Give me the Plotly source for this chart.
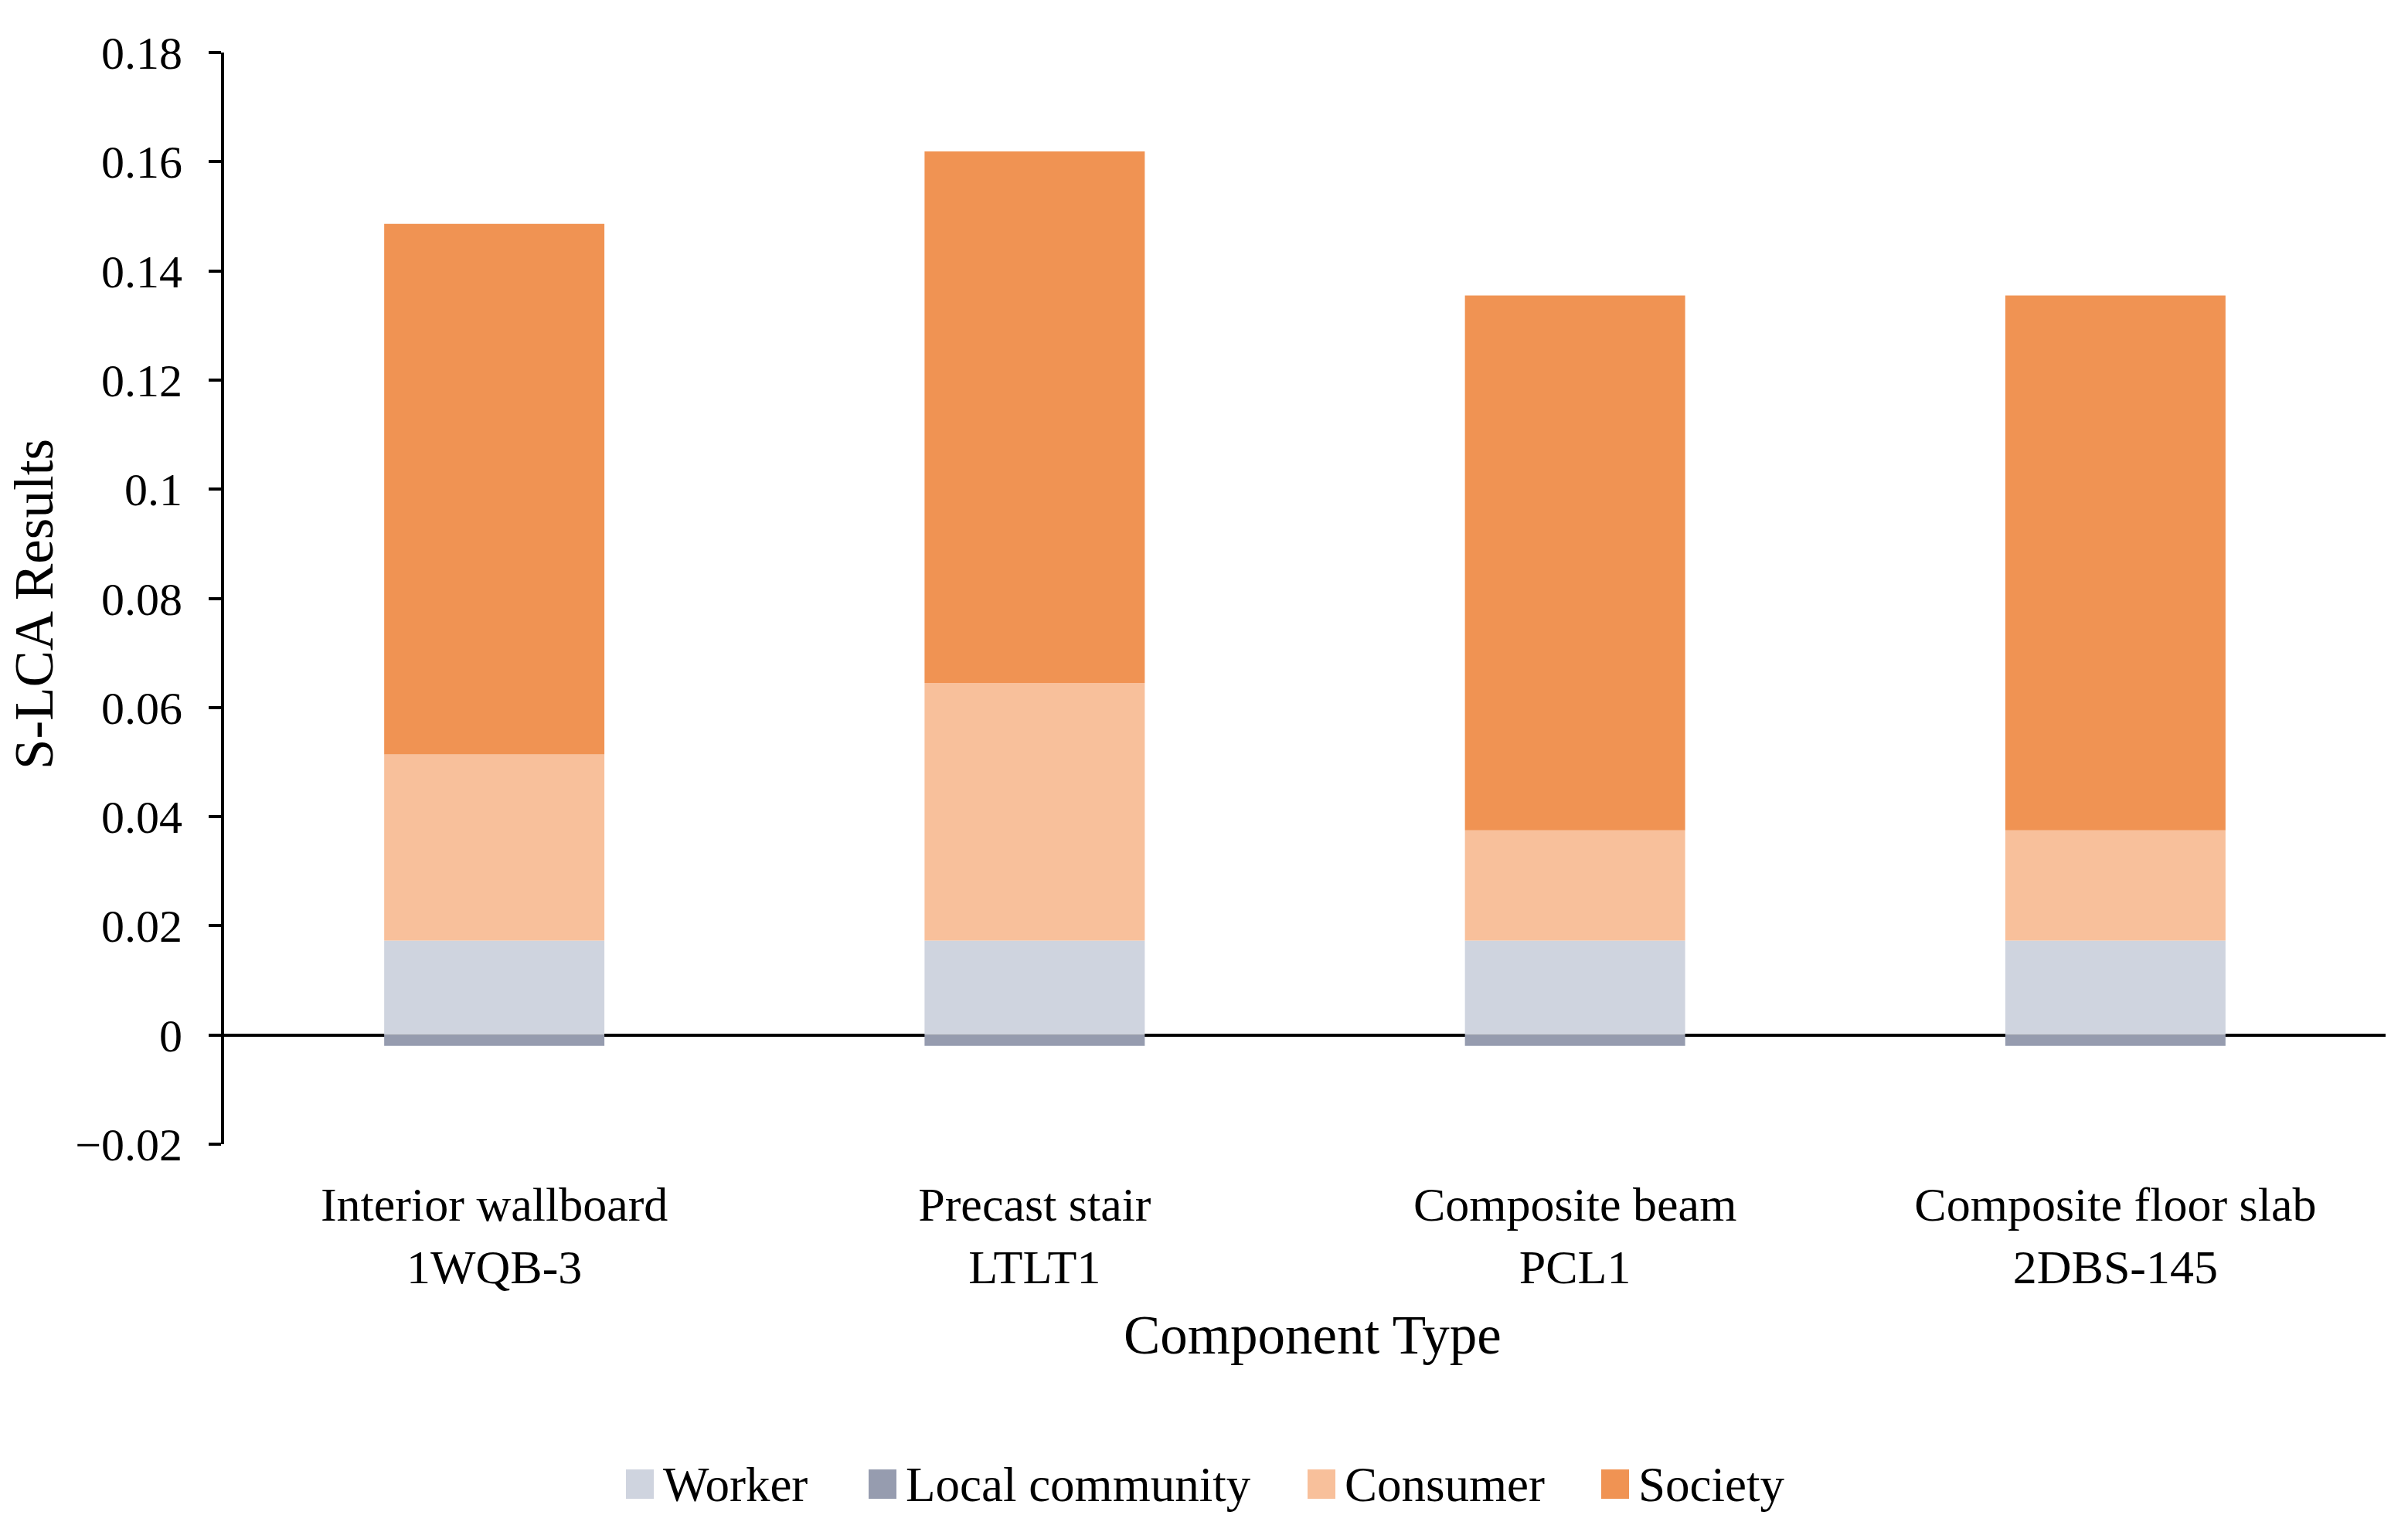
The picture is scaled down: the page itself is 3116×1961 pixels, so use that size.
import plotly.graph_objects as go

categories = ["Interior wallboard<br>1WQB-3", "Precast stair<br>LTLT1",
              "Composite beam<br>PCL1", "Composite floor slab<br>2DBS-145"]
worker = [0.0173, 0.0173, 0.0173, 0.0173]
local_community = [-0.0020, -0.0020, -0.0020, -0.0020]
consumer = [0.0341, 0.0472, 0.0202, 0.0202]
society = [0.0972, 0.0974, 0.0980, 0.0980]
y_ticks = [-0.02, 0, 0.02, 0.04, 0.06, 0.08, 0.1, 0.12, 0.14, 0.16, 0.18]
y_tick_text = ["\u22120.02", "0", "0.02", "0.04", "0.06", "0.08", "0.1", "0.12", "0.14", "0.16", "0.18"]
series_names = ["Worker", "Local community", "Consumer", "Society"]
series_colors = ["#CFD4DF", "#969CAF", "#F8C09B", "#F09353"]
series_values = [worker, local_community, consumer, society]

FONT = "Liberation Serif, Times New Roman, serif"
W, H = 3116, 1961
L, R, T, B = 290, 29, 68, 480
PW, PH = W - L - R, H - T - B


def px_x(px):
    return (px - L) / PW


def px_y(py):
    return (H - B - py) / PH


fig = go.Figure()
for name, vals, color in zip(series_names, series_values, series_colors):
    fig.add_trace(go.Bar(x=categories, y=vals, name=name,
                         marker=dict(color=color, line=dict(width=0))))

# legend drawn with large swatches as in the reference
legend_swatch_left = [810, 1124, 1692, 2072]
shapes = []
annotations = []
for i, (name, color) in enumerate(zip(series_names, series_colors)):
    x0 = legend_swatch_left[i]
    shapes.append(dict(type="rect", xref="paper", yref="paper",
                       x0=px_x(x0), x1=px_x(x0 + 36), y0=px_y(1940), y1=px_y(1902),
                       fillcolor=color, line=dict(width=0)))
    annotations.append(dict(text=name, xref="paper", yref="paper",
                            x=px_x(x0 + 46), y=px_y(1922), xanchor="left", yanchor="middle",
                            showarrow=False, font=dict(family=FONT, size=63, color="black")))

annotations += [
    dict(text="S-LCA Results", xref="paper", yref="paper",
         x=px_x(44), y=px_y(782), xanchor="center", yanchor="middle",
         textangle=-90, showarrow=False, font=dict(family=FONT, size=71)),
    dict(text="Component Type", xref="paper", yref="paper",
         x=px_x(1699), y=px_y(1728), xanchor="center", yanchor="middle",
         showarrow=False, font=dict(family=FONT, size=71)),
]

fig.update_layout(
    width=W, height=H,
    barmode="relative",
    bargap=0.5925,
    plot_bgcolor="white", paper_bgcolor="white",
    font=dict(family=FONT, size=62, color="black"),
    margin=dict(l=L, r=R, t=T, b=B),
    showlegend=False,
    xaxis=dict(showline=False, ticks="", showgrid=False, zeroline=False,
               tickfont=dict(family=FONT, size=62), ticklabelstandoff=36),
    yaxis=dict(range=[-0.02, 0.18], tickvals=y_ticks, ticktext=y_tick_text,
               showline=True, linecolor="black", linewidth=4,
               ticks="outside", ticklen=16, tickwidth=4, tickcolor="black",
               showgrid=False, zeroline=True, zerolinecolor="black", zerolinewidth=4,
               tickfont=dict(family=FONT, size=60), ticklabelstandoff=22),
    shapes=shapes,
    annotations=annotations,
)

fig.write_html("out.html", config={"displayModeBar": False},
               post_script="document.body.style.margin='0px';")
